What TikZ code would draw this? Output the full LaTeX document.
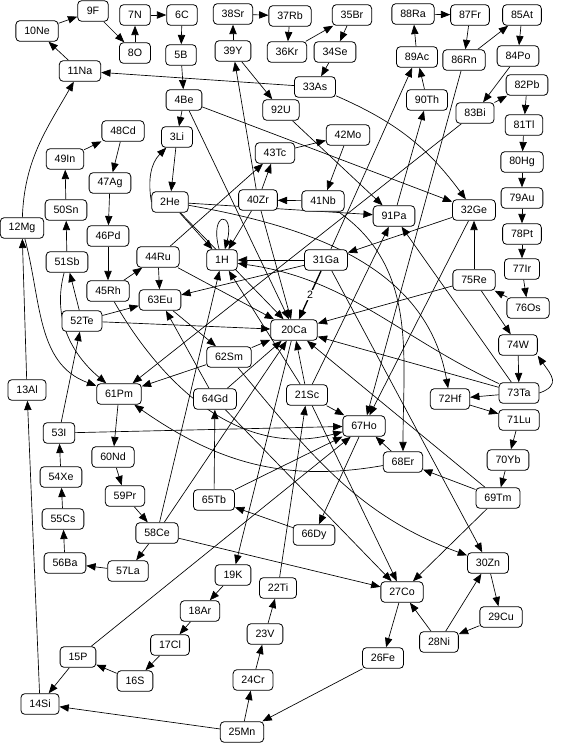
\documentclass[tikz,border=0pt]{standalone}
\usepackage{fontspec}
\setmainfont{Liberation Sans}
\usetikzlibrary{arrows.meta, positioning, backgrounds}
\tikzset{
  elem/.style={draw, rounded corners=3pt, line width=0.6pt, fill=white,
    font=\fontsize{8}{9}\selectfont, inner xsep=6.3pt, inner ysep=0pt,
    minimum height=15.5pt, minimum width=23pt},
  link/.style={-{Triangle[length=7pt,width=5.5pt]}, line width=0.5pt},
  multlabel/.style={font=\fontsize{8}{9}\selectfont, fill=white, inner sep=1pt},
}

\begin{document}
\begin{tikzpicture}[x=0.75pt, y=-0.75pt]
  \useasboundingbox (0,0) rectangle (563,754);

  % Light elements (top left)
  \node[elem] (H)  at (222,260) {1H};
  \node[elem] (He) at (170,202) {2He};
  \node[elem] (Li) at (177,137) {3Li};
  \node[elem] (Be) at (184,100) {4Be};
  \node[elem] (B)  at (181,55)  {5B};
  \node[elem] (C)  at (182,15)  {6C};
  \node[elem] (N)  at (135,15)  {7N};
  \node[elem] (O)  at (135,53)  {8O};
  \node[elem] (F)  at (93,11)   {9F};
  \node[elem] (Ne) at (37,31)   {10Ne};
  \node[elem] (Na) at (80,71)   {11Na};
  \node[elem] (Mg) at (22,228)  {12Mg};
  \node[elem] (Al) at (27,390)  {13Al};
  \node[elem] (Si) at (40,704)  {14Si};
  \node[elem] (P)  at (78,657)  {15P};
  \node[elem] (S)  at (135,681) {16S};
  \node[elem] (Cl) at (170,645) {17Cl};
  \node[elem] (Ar) at (200,611) {18Ar};
  \node[elem] (K)  at (233,575) {19K};
  \node[elem, minimum width=35pt] (Ca) at (294,330) {20Ca};
  \node[elem] (Sc) at (307,395) {21Sc};
  \node[elem] (Ti) at (278,588) {22Ti};
  \node[elem] (V)  at (265,634) {23V};
  \node[elem] (Cr) at (253,680) {24Cr};
  \node[elem] (Mn) at (242,732) {25Mn};
  \node[elem] (Fe) at (383,658) {26Fe};
  \node[elem] (Co) at (402,592) {27Co};
  \node[elem] (Ni) at (439,642) {28Ni};
  \node[elem] (Cu) at (501,617) {29Cu};
  \node[elem] (Zn) at (488,563) {30Zn};
  \node[elem] (Ga) at (326,260) {31Ga};
  \node[elem] (Ge) at (474,210) {32Ge};
  \node[elem] (As) at (315,87)  {33As};
  \node[elem] (Se) at (335,52)  {34Se};
  \node[elem] (Br) at (352,15)  {35Br};
  \node[elem] (Kr) at (287,52)  {36Kr};
  \node[elem] (Rb) at (290,16)  {37Rb};
  \node[elem] (Sr) at (233,14)  {38Sr};
  \node[elem] (Y)  at (233,51)  {39Y};
  \node[elem] (Zr) at (258,200) {40Zr};
  \node[elem] (Nb) at (323,201) {41Nb};
  \node[elem] (Mo) at (348,135) {42Mo};
  \node[elem] (Tc) at (275,153) {43Tc};
  \node[elem] (Ru) at (158,257) {44Ru};
  \node[elem] (Rh) at (108,291) {45Rh};
  \node[elem] (Pd) at (108,236) {46Pd};
  \node[elem] (Ag) at (110,183) {47Ag};
  \node[elem] (Cd) at (123,131) {48Cd};
  \node[elem] (In) at (65,159)  {49In};
  \node[elem] (Sn) at (66,210)  {50Sn};
  \node[elem] (Sb) at (67,262)  {51Sb};
  \node[elem] (Te) at (82,321)  {52Te};
  \node[elem] (I)  at (59,433)  {53I};
  \node[elem] (Xe) at (61,477)  {54Xe};
  \node[elem] (Cs) at (63,519)  {55Cs};
  \node[elem] (Ba) at (65,563)  {56Ba};
  \node[elem] (La) at (128,571) {57La};
  \node[elem] (Ce) at (157,533) {58Ce};
  \node[elem] (Pr) at (125,496) {59Pr};
  \node[elem] (Nd) at (113,457) {60Nd};
  \node[elem] (Pm) at (119,394) {61Pm};
  \node[elem] (Sm) at (229,357) {62Sm};
  \node[elem] (Eu) at (160,300) {63Eu};
  \node[elem] (Gd) at (215,399) {64Gd};
  \node[elem] (Tb) at (214,500) {65Tb};
  \node[elem] (Dy) at (314,535) {66Dy};
  \node[elem] (Ho) at (364,426) {67Ho};
  \node[elem] (Er) at (403,462) {68Er};
  \node[elem] (Tm) at (498,498) {69Tm};
  \node[elem] (Yb) at (508,460) {70Yb};
  \node[elem] (Lu) at (519,420) {71Lu};
  \node[elem] (Hf) at (450,399) {72Hf};
  \node[elem] (Ta) at (519,393) {73Ta};
  \node[elem] (W)  at (518,345) {74W};
  \node[elem] (Re) at (474,280) {75Re};
  \node[elem] (Os) at (528,308) {76Os};
  \node[elem] (Ir) at (522,269) {77Ir};
  \node[elem] (Pt) at (522,234) {78Pt};
  \node[elem] (Au) at (522,198) {79Au};
  \node[elem] (Hg) at (522,162) {80Hg};
  \node[elem] (Tl) at (524,125) {81Tl};
  \node[elem] (Pb) at (527,85)  {82Pb};
  \node[elem] (Bi) at (475,113) {83Bi};
  \node[elem] (Po) at (518,56)  {84Po};
  \node[elem] (At) at (522,15)  {85At};
  \node[elem] (Rn) at (464,60)  {86Rn};
  \node[elem] (Fr) at (470,15)  {87Fr};
  \node[elem] (Ra) at (413,14)  {88Ra};
  \node[elem] (Ac) at (417,57)  {89Ac};
  \node[elem] (Th) at (427,100) {90Th};
  \node[elem] (Pa) at (394,216) {91Pa};
  \node[elem] (U)  at (281,110) {92U};

  \begin{scope}[on background layer]
  % H -- Ne
  \draw[link] (H) to[out=105, in=75, min distance=30pt] (H);
  \draw[link] (He) to[out=-10, in=100] (Hf);
  \draw[link] (He) -- (Pa);
  \draw[link] (He) -- (H);
  \draw[link] (He) -- (Ca);
  \draw[link] (He.west) to[out=100, in=225] (Li);
  \draw[link] (Li) -- (He);
  \draw[link] (Be) -- (Ge);
  \draw[link] (Be) -- (Ca);
  \draw[link] (Be) -- (Li);
  \draw[link] (B) -- (Be);
  \draw[link] (C) -- (B);
  \draw[link] (N) -- (C);
  \draw[link] (O) -- (N);
  \draw[link] (F) -- (O);
  \draw[link] (Ne) -- (F);
  \draw[link] (Na) -- (Ne);
  % Mg -- Zn
  \draw[link] (Mg) to[out=-75, in=160] (Pm);
  \draw[link] (Mg) to[out=88, in=240] (Na);
  \draw[link] (Al) -- (Mg);
  \draw[link] (Si) -- (Al);
  \draw[link] (P) -- (Ho);
  \draw[link] (P) -- (Si);
  \draw[link] (S) -- (P);
  \draw[link] (Cl) -- (S);
  \draw[link] (Ar) -- (Cl);
  \draw[link] (K) -- (Ar);
  \draw[link] (Ca) -- (K);
  \draw[link] (Sc) -- (Ho);
  \draw[link] (Sc) -- (Pa);
  \draw[link] (Sc) -- (H);
  \draw[link] (Sc) -- (Ca);
  \draw[link] (Sc) -- (Co);
  \draw[link] (Ti) -- (Sc);
  \draw[link] (V) -- (Ti);
  \draw[link] (Cr) -- (V);
  \draw[link] (Mn) -- (Cr);
  \draw[link] (Mn) -- (Si);
  \draw[link] (Fe) -- (Mn);
  \draw[link] (Co) -- (Fe);
  \draw[link] (Ni) -- (Zn);
  \draw[link] (Ni) -- (Co);
  \draw[link] (Cu) -- (Ni);
  \draw[link] (Zn) -- (Cu);
  % Ga -- Mo
  \draw[link] (Ga) -- (Eu);
  \draw[link, line width=1pt] (Ga) -- node[multlabel] {2} (Ca);
  \draw[link] (Ga) -- (Ac);
  \draw[link] (Ga) -- (H);
  \draw[link] (Ga) -- (Zn);
  \draw[link] (Ge) -- (Ho);
  \draw[link] (Ge) -- (Ga);
  \draw[link] (As) to[bend left=15] (Ge);
  \draw[link] (As) -- (Na);
  \draw[link] (Se) -- (As);
  \draw[link] (Br) -- (Se);
  \draw[link] (Kr) -- (Br);
  \draw[link] (Rb) -- (Kr);
  \draw[link] (Sr) -- (Rb);
  \draw[link] (Y) -- (Sr);
  \draw[link] (Y) -- (U);
  \draw[link] (Zr) -- (Y);
  \draw[link] (Zr) -- (H);
  \draw[link] (Zr) -- (Ca);
  \draw[link] (Zr) -- (Tc);
  \draw[link] (Nb) to[out=-35, in=90] (Er);
  \draw[link] (Nb) -- (Zr);
  \draw[link] (Mo) -- (Nb);
  \draw[link] (Tc) -- (Mo);
  % Ru -- Dy
  \draw[link] (Ru) -- (Eu);
  \draw[link] (Ru) -- (Ca);
  \draw[link] (Ru) -- (Tc);
  \draw[link] (Rh) to[out=-60, in=195] (Ho);
  \draw[link] (Rh) -- (Ru);
  \draw[link] (Pd) -- (Rh);
  \draw[link] (Ag) -- (Pd);
  \draw[link] (Cd) -- (Ag);
  \draw[link] (In) -- (Cd);
  \draw[link] (Sn) -- (In);
  \draw[link] (Sb) to[out=-105, in=140] (Pm);
  \draw[link] (Sb) -- (Sn);
  \draw[link] (Te) -- (Eu);
  \draw[link] (Te) -- (Ca);
  \draw[link] (Te) -- (Sb);
  \draw[link] (I) -- (Ho);
  \draw[link] (I) -- (Te);
  \draw[link] (Xe) -- (I);
  \draw[link] (Cs) -- (Xe);
  \draw[link] (Ba) -- (Cs);
  \draw[link] (La) -- (Ba);
  \draw[link] (Ce) -- (La);
  \draw[link] (Ce) -- (H);
  \draw[link] (Ce) -- (Ca);
  \draw[link] (Ce) -- (Co);
  \draw[link] (Pr) -- (Ce);
  \draw[link] (Nd) -- (Pr);
  \draw[link] (Pm) -- (Nd);
  \draw[link] (Sm) -- (Pm);
  \draw[link] (Sm) -- (Ca);
  \draw[link] (Sm) to[out=-50, in=160] (Zn);
  \draw[link] (Eu) -- (Sm);
  \draw[link] (Gd) -- (Eu);
  \draw[link] (Gd) -- (Ca);
  \draw[link] (Gd) -- (Co);
  \draw[link] (Tb) -- (Ho);
  \draw[link] (Tb) -- (Gd);
  \draw[link] (Dy) -- (Tb);
  % Ho -- U
  \draw[link] (Ho) -- (Dy);
  \draw[link] (Er) -- (Ho);
  \draw[link] (Er) to[out=190, in=-35] (Pm);
  \draw[link] (Tm) -- (Er);
  \draw[link] (Tm) -- (Ca);
  \draw[link] (Tm) -- (Co);
  \draw[link] (Yb) -- (Tm);
  \draw[link] (Lu) -- (Yb);
  \draw[link] (Hf) -- (Lu);
  \draw[link] (Ta) -- (Hf);
  \draw[link] (Ta) -- (Pa);
  \draw[link] (Ta) to[out=155, in=-8] (H.-12);
  \draw[link] (Ta) -- (Ca);
  \draw[link] (Ta.east) to[out=20, in=-55, looseness=1.6] (W.south east);
  \draw[link] (W) -- (Ta);
  \draw[link] (Re) -- (Ge);
  \draw[link] (Re) -- (Ca);
  \draw[link] (Re) -- (W);
  \draw[link] (Os) -- (Re);
  \draw[link] (Ir) -- (Os);
  \draw[link] (Pt) -- (Ir);
  \draw[link] (Au) -- (Pt);
  \draw[link] (Hg) -- (Au);
  \draw[link] (Tl) -- (Hg);
  \draw[link] (Pb) -- (Tl);
  \draw[link] (Bi) -- (Pm);
  \draw[link] (Bi) -- (Pb);
  \draw[link] (Po) -- (Bi);
  \draw[link] (At) -- (Po);
  \draw[link] (Rn) -- (Ho);
  \draw[link] (Rn) -- (At);
  \draw[link] (Fr) -- (Rn);
  \draw[link] (Ra) -- (Fr);
  \draw[link] (Ac) -- (Ra);
  \draw[link] (Th) -- (Ac);
  \draw[link] (Pa) -- (Th);
  \draw[link] (U) -- (Pa);
  \end{scope}
\end{tikzpicture}
\end{document}
